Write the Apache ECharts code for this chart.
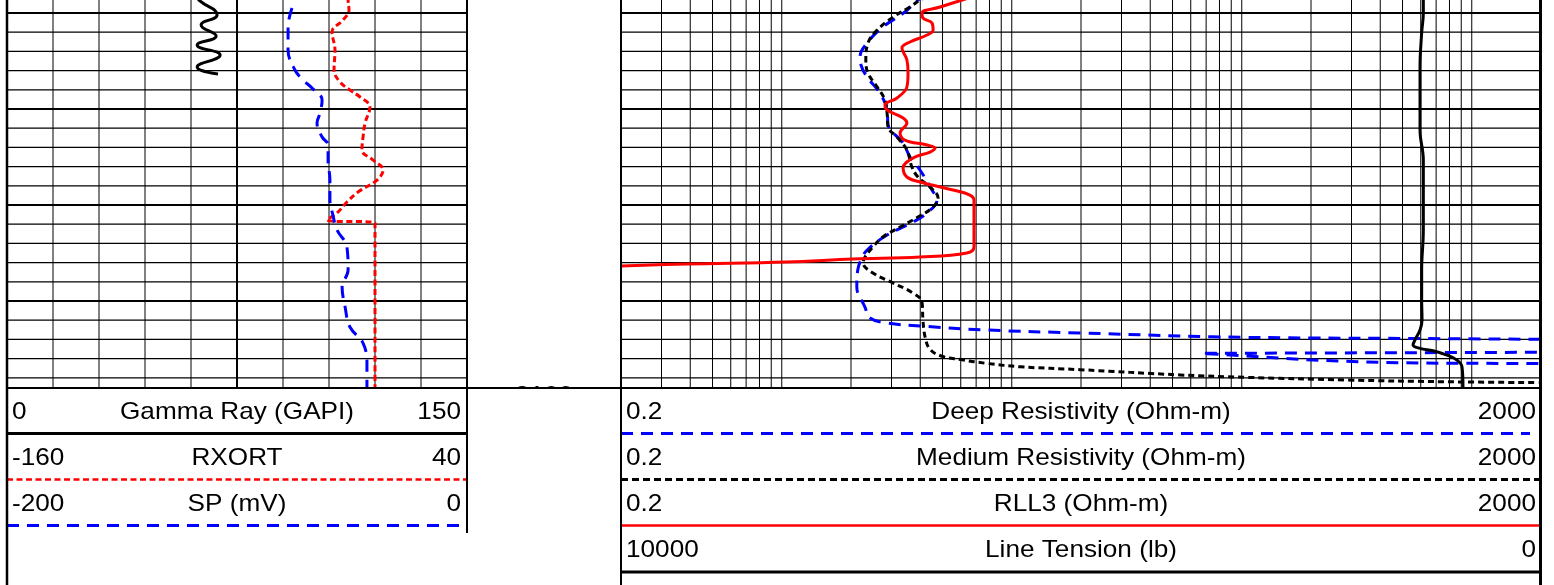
<!DOCTYPE html>
<html>
<head>
<meta charset="utf-8">
<script src="https://cdn.jsdelivr.net/npm/echarts@6/dist/echarts.min.js"></script>
<style>
  html, body { margin: 0; padding: 0; background: #fff; }
  #chart { width: 1554px; height: 585px; }
</style>
</head>
<body>
<div id="chart"></div>
<script>
// ---- depth window and grid lines (ft) ----
const DEPTH_TOP = 3058.646;
const DEPTH_BASE = 3099.06;
const DEPTH_LINES = [3060, 3062, 3064, 3066, 3068, 3070, 3072, 3074, 3076, 3078,
                     3080, 3082, 3084, 3086, 3088, 3090, 3092, 3094, 3096, 3098];
const DEPTH_LABELS = ['3100'];
const GR_LINES = [15, 30, 45, 60, 75, 90, 105, 120, 135];
const RES_LINES = [0.3, 0.4, 0.5, 0.6, 0.7, 0.8, 0.9, 1, 2, 3, 4, 5, 6, 7, 8, 9,
                   10, 20, 30, 40, 50, 60, 70, 80, 90, 100, 200, 300, 400, 500, 600, 700, 800, 900, 1000];

// ---- track 1 curves ----
const GR_DEPTH = [3058.3, 3058.65, 3060.21, 3061.25, 3062.4, 3063.33, 3064.38, 3065.63, 3066.35];
const GR = [62.0, 62.6, 68.5, 63.3, 68.2, 62.0, 69.5, 62.0, 68.8];

const RXORT_DEPTH = [3058.3, 3058.65, 3059.69, 3060.73, 3061.98, 3063.85, 3065.94, 3067.19, 3068.02, 3068.75,
                     3069.79, 3071.46, 3072.92, 3074.27, 3075.31, 3076.35, 3077.40, 3078.65, 3079.69, 3080.83,
                     3081.56, 3081.88, 3099.5];
const RXORT = [-11.5, -11.7, -11.3, -13.9, -18.7, -17.4, -17.8, -15.2, -10.9, -6.5,
               -2.2, -4.3, -5.2, -5.7, -0.9, 3.5, 0.9, -7.4, -12.2, -16.5,
               -20.9, 0.0, 0.0];

const SP_DEPTH = [3059.48, 3061.46, 3063.85, 3065.94, 3066.98, 3067.81, 3069.06, 3070.42, 3071.46, 3072.92,
                  3073.75, 3075.31, 3077.40, 3079.48, 3081.04, 3082.60, 3084.38, 3086.77, 3088.54, 3090.63,
                  3092.71, 3094.38, 3096.46, 3099.5];
const SP = [-76.1, -77.8, -77.8, -74.8, -71.3, -67.4, -63.0, -63.9, -65.2, -63.0,
            -60.4, -60.4, -59.6, -59.6, -58.3, -56.5, -52.2, -51.7, -54.3, -53.0,
            -50.9, -45.2, -43.5, -43.5];

// ---- track 2 curves ----
const DEEP_DEPTH = [3058.3, 3058.65, 3059.9, 3061.46, 3063.02, 3064.58, 3065.42, 3066.67, 3068.33, 3070.1,
                    3071.67, 3073.54, 3075.0, 3076.35, 3078.44, 3079.48, 3080.83, 3081.77, 3083.13, 3084.69,
                    3085.52, 3086.77, 3088.54, 3090.63, 3091.77, 3092.29, 3092.6, 3093.02, 3093.33, 3093.72,
                    3093.85, 3093.9, 3093.99];
const DEEP = [4.3, 3.91, 3.43, 2.75, 2.37, 2.19, 2.21, 2.35, 2.67, 2.87,
              2.90, 3.37, 3.61, 3.99, 4.50, 4.73, 4.28, 3.72, 2.87, 2.35,
              2.23, 2.14, 2.12, 2.30, 2.42, 2.87, 3.99, 7.8, 19.8, 74.6,
              203, 555, 1980];
// deep reading wrapped back onto the scale near the base
const DEEP_WRAP_DEPTH = [3095.34, 3095.45, 3095.73, 3096.15, 3096.39, 3096.49, 3096.5];
const DEEP_WRAP = [1920, 67, 105, 203, 399, 774, 1980];

const MED_DEPTH = [3058.33, 3058.65, 3059.38, 3060.42, 3061.77, 3063.13, 3064.9, 3066.25, 3067.71, 3069.06,
                   3070.42, 3071.88, 3072.92, 3074.27, 3076.04, 3077.08, 3078.13, 3079.27, 3080.21, 3081.25,
                   3082.29, 3083.33, 3084.38, 3085.42, 3086.04, 3087.08, 3088.13, 3089.17, 3090.1, 3091.98,
                   3093.75, 3095.0, 3095.7, 3096.1, 3096.5, 3096.85, 3097.15, 3097.7, 3097.95, 3098.23,
                   3098.41, 3098.5];
const MED = [4.3, 3.99, 3.61, 3.05, 2.60, 2.37, 2.32, 2.37, 2.60, 2.81,
             2.87, 2.90, 3.17, 3.50, 3.68, 3.91, 4.41, 4.78, 4.55, 3.91,
             3.27, 2.75, 2.49, 2.30, 2.26, 2.49, 3.05, 3.72, 4.07, 4.11,
             4.2, 4.4, 4.9, 6.0, 7.8, 10.9, 19.8, 54, 105, 286,
             777, 1950];

const RLL3_DEPTH = [3058.33, 3058.65, 3059.38, 3060.0, 3060.52, 3061.04, 3061.77, 3062.29, 3063.02, 3063.65,
                    3064.9, 3066.25, 3067.71, 3068.85, 3069.58, 3070.1, 3070.94, 3071.46, 3072.5, 3073.23,
                    3073.75, 3074.06, 3074.48, 3075.1, 3076.15, 3077.08, 3077.6, 3078.44, 3078.96, 3079.48,
                    3084.38, 3085.0, 3085.42, 3085.63, 3085.94, 3086.15, 3086.35];
const RLL3 = [6.7, 6.08, 4.88, 4.07, 4.11, 4.50, 4.55, 4.28, 3.61, 3.33,
              3.50, 3.54, 3.50, 3.17, 2.81, 2.87, 3.37, 3.50, 3.27, 3.43,
              4.28, 4.64, 4.41, 3.72, 3.37, 3.50, 3.99, 5.55, 6.58, 6.85,
              6.85, 6.38, 3.99, 2.04, 1.05, 0.387, 0.2];

const TENSION_DEPTH = [3058.3, 3060.0, 3062.06, 3065.6, 3069.06, 3072.19, 3075.31, 3079.48, 3082.6, 3086.77,
                       3089.9, 3091.98, 3093.02, 3094.06, 3094.58, 3094.93, 3095.18, 3095.63, 3096.15, 3096.84,
                       3098.93, 3099.5];
const TENSION = [1279, 1279, 1297, 1315, 1315, 1315, 1279, 1279, 1279, 1297,
                 1297, 1293, 1315, 1370, 1391, 1315, 1174, 1022, 913, 859,
                 848, 848];

// ---- header texts ----
const LEFT_TITLES = ['Gamma Ray (GAPI)', 'RXORT', 'SP (mV)'];
const LEFT_MINS = ['0', '-160', '-200'];
const LEFT_MAXS = ['150', '40', '0'];
const RIGHT_TITLES = ['Deep Resistivity (Ohm-m)', 'Medium Resistivity (Ohm-m)', 'RLL3 (Ohm-m)', 'Line Tension (lb)'];
const RIGHT_MINS = ['0.2', '0.2', '0.2', '10000'];
const RIGHT_MAXS = ['2000', '2000', '2000', '0'];

// ---- layout ----
const L = { x: 7, w: 460 };
const R = { x: 621, w: 920 };
const PLOT_H = 388;
const ROW_Y = [412, 458, 504, 550];
const ROW_LINE_Y = [433.5, 479.5, 525.5, 572];
const FONT = '24px "Liberation Sans", Arial, sans-serif';
const SX = 1.09;

const BLUE = '#0000ff', RED = '#ff0000', BLACK = '#000000';

function hGrid(xIdx, yIdx, xRef) {
  return {
    type: 'custom', xAxisIndex: xIdx, yAxisIndex: yIdx, silent: true, z: 1,
    data: DEPTH_LINES.map(d => [xRef, d]),
    renderItem: function (params, api) {
      const cs = params.coordSys;
      const d = api.value(1);
      const y = api.coord([api.value(0), d])[1];
      const major = d % 10 === 0;
      return { type: 'line', shape: { x1: cs.x, y1: y, x2: cs.x + cs.width, y2: y },
               style: { stroke: BLACK, lineWidth: major ? 2 : 1.2 } };
    }
  };
}
function vGrid(xIdx, yIdx, values, thick) {
  return {
    type: 'custom', xAxisIndex: xIdx, yAxisIndex: yIdx, silent: true, z: 1,
    data: values.map(v => [v, DEPTH_TOP]),
    renderItem: function (params, api) {
      const cs = params.coordSys;
      const v = api.value(0);
      const x = api.coord([v, api.value(1)])[0];
      return { type: 'line', shape: { x1: x, y1: cs.y, x2: x, y2: cs.y + cs.height },
               style: { stroke: BLACK, lineWidth: v === thick ? 2 : 1 } };
    }
  };
}
function curve(name, xIdx, yIdx, depths, values, color, width, dash, smooth, z) {
  return {
    type: 'line', name: name, xAxisIndex: xIdx, yAxisIndex: yIdx,
    data: depths.map((d, i) => [values[i], d]),
    symbol: 'none', showSymbol: false, smooth: smooth, silent: true, z: z,
    lineStyle: { color: color, width: width, type: dash || 'solid', cap: 'butt', join: 'round' }
  };
}
function text(t, x, y, align) {
  return { type: 'text', x: x, y: y, scaleX: SX, z: 30, silent: true,
           style: { text: t, font: FONT, fill: BLACK, textAlign: align, align: align,
                    textVerticalAlign: 'middle', verticalAlign: 'middle' } };
}
function hline(x1, x2, y, color, width, dash, z) {
  const s = { stroke: color, lineWidth: width };
  if (dash) s.lineDash = dash;
  return { type: 'line', z: z || 30, silent: true, shape: { x1: x1, y1: y, x2: x2, y2: y }, style: s };
}
function vline(x, y1, y2, width) {
  return { type: 'line', z: 40, silent: true, shape: { x1: x, y1: y1, x2: x, y2: y2 },
           style: { stroke: BLACK, lineWidth: width } };
}

const graphics = [];
// depth label sits in the gap between tracks, mostly hidden below the plot base
DEPTH_LABELS.forEach(t => graphics.push({ type: 'text', x: 544, y: 396, scaleX: SX, z: 5, silent: true,
  style: { text: t, font: FONT, fill: BLACK, textAlign: 'center', align: 'center',
           textVerticalAlign: 'middle', verticalAlign: 'middle' } }));
graphics.push({ type: 'rect', z: 10, silent: true, shape: { x: 0, y: PLOT_H, width: 1554, height: 585 - PLOT_H },
                style: { fill: '#ffffff' } });
graphics.push(hline(L.x, R.x + R.w, PLOT_H, BLACK, 2, null, 41));

// track borders
graphics.push(vline(L.x, 0, 585, 2.5));
graphics.push(vline(L.x + L.w, 0, 533, 2));
graphics.push(vline(R.x, 0, 585, 2));
graphics.push(vline(R.x + R.w - 0.5, 0, 585, 3));

// header rows
const leftLineStyles = [[BLACK, 3, null], [RED, 2.5, [6, 3.5]], [BLUE, 3, [12, 8]]];
LEFT_TITLES.forEach((t, i) => {
  graphics.push(text(LEFT_MINS[i], L.x + 5, ROW_Y[i], 'left'));
  graphics.push(text(t, L.x + L.w / 2, ROW_Y[i], 'center'));
  graphics.push(text(LEFT_MAXS[i], L.x + L.w - 6, ROW_Y[i], 'right'));
  const st = leftLineStyles[i];
  graphics.push(hline(L.x, L.x + L.w, ROW_LINE_Y[i], st[0], st[1], st[2]));
});
const rightLineStyles = [[BLUE, 3, [12, 8], 1530], [BLACK, 3, [7, 4], 1540], [RED, 2.5, null, 1541], [BLACK, 3, null, 1541]];
RIGHT_TITLES.forEach((t, i) => {
  graphics.push(text(RIGHT_MINS[i], R.x + 5, ROW_Y[i], 'left'));
  graphics.push(text(t, R.x + R.w / 2, ROW_Y[i], 'center'));
  graphics.push(text(RIGHT_MAXS[i], R.x + R.w - 5, ROW_Y[i], 'right'));
  const st = rightLineStyles[i];
  graphics.push(hline(R.x, st[3], ROW_LINE_Y[i], st[0], st[1], st[2]));
});

const option = {
  animation: false,
  backgroundColor: '#ffffff',
  grid: [
    { left: L.x, top: 0, width: L.w, height: PLOT_H, outerBoundsMode: 'none', containLabel: false },
    { left: R.x, top: 0, width: R.w, height: PLOT_H, outerBoundsMode: 'none', containLabel: false }
  ],
  xAxis: [
    { gridIndex: 0, type: 'value', min: 0, max: 150, show: false },
    { gridIndex: 0, type: 'value', min: -160, max: 40, show: false },
    { gridIndex: 0, type: 'value', min: -200, max: 0, show: false },
    { gridIndex: 1, type: 'log', logBase: 10, min: 0.2, max: 2000, show: false },
    { gridIndex: 1, type: 'value', min: 0, max: 10000, inverse: true, show: false }
  ],
  yAxis: [
    { gridIndex: 0, type: 'value', inverse: true, min: DEPTH_TOP, max: DEPTH_BASE, show: false },
    { gridIndex: 1, type: 'value', inverse: true, min: DEPTH_TOP, max: DEPTH_BASE, show: false }
  ],
  series: [
    hGrid(0, 0, 75),
    vGrid(0, 0, GR_LINES, 75),
    hGrid(3, 1, 1),
    vGrid(3, 1, RES_LINES, -1),
    curve('Gamma Ray', 0, 0, GR_DEPTH, GR, BLACK, 3, null, 0.5, 5),
    curve('RXORT', 1, 0, RXORT_DEPTH, RXORT, RED, 3, [6, 3.5], 0.4, 5),
    curve('SP', 2, 0, SP_DEPTH, SP, BLUE, 3, [12, 8], 0.4, 5),
    curve('Deep Resistivity', 3, 1, DEEP_DEPTH, DEEP, BLUE, 3, [12, 8], 0.4, 5),
    curve('Deep Resistivity', 3, 1, DEEP_WRAP_DEPTH, DEEP_WRAP, BLUE, 3, [12, 8], false, 5),
    curve('Medium Resistivity', 3, 1, MED_DEPTH, MED, BLACK, 3, [6, 4], 0.4, 6),
    curve('RLL3', 3, 1, RLL3_DEPTH, RLL3, RED, 3, null, 0.4, 7),
    curve('Line Tension', 4, 1, TENSION_DEPTH, TENSION, BLACK, 3, null, 0.4, 7)
  ],
  graphic: { elements: graphics }
};

const chart = echarts.init(document.getElementById('chart'), null, { renderer: 'canvas' });
chart.setOption(option);
</script>
</body>
</html>
